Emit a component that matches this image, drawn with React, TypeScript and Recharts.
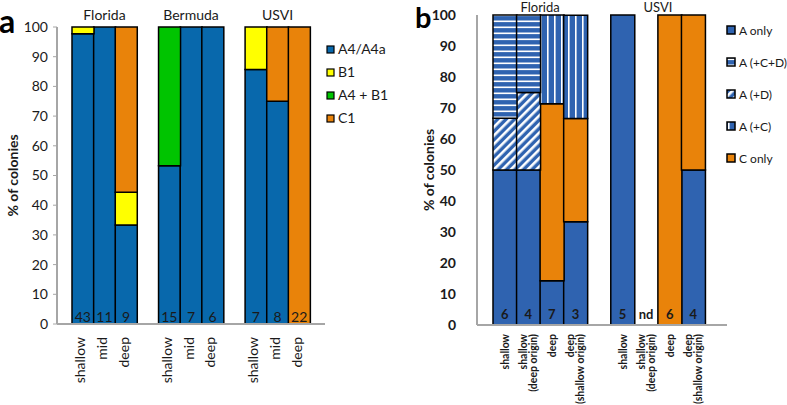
import React from 'react';
import { BarChart, Bar, XAxis, YAxis, Legend } from 'recharts';

const FONT = 'Lato, "Open Sans", sans-serif';
const INK = '#1a1a1a';
const AXIS = '#a6a6a6';

// ---- panel a ----
const idsA = ['fl-s', 'fl-m', 'fl-d', 'gap1', 'bm-s', 'bm-m', 'bm-d', 'gap2', 'vi-s', 'vi-m', 'vi-d'];
const depthA = ['shallow', 'mid', 'deep', '', 'shallow', 'mid', 'deep', '', 'shallow', 'mid', 'deep'];
const countA = ['43', '11', '9', '', '15', '7', '6', '', '7', '8', '22'];
const siteA = ['', 'Florida', '', '', '', 'Bermuda', '', '', '', 'USVI', ''];
const a4A = [97.7, 100, 33.3, 0, 53.3, 100, 100, 0, 85.7, 75, 0];
const b1A = [2.3, 0, 11.1, 0, 0, 0, 0, 0, 14.3, 0, 0];
const a4b1A = [0, 0, 0, 0, 46.7, 0, 0, 0, 0, 0, 0];
const c1A = [0, 0, 55.6, 0, 0, 0, 0, 0, 0, 25, 100];

// ---- panel b ----
const idsB = ['fl-s', 'fl-sd', 'fl-d', 'fl-ds', 'gap', 'vi-s', 'vi-sd', 'vi-d', 'vi-ds'];
const depthB = [
  ['shallow'], ['shallow', '(deep origin)'], ['deep'], ['deep', '(shallow origin)'], [],
  ['shallow'], ['shallow', '(deep origin)'], ['deep'], ['deep', '(shallow origin)'],
];
const countB = ['6', '4', '7', '3', '', '5', 'nd', '6', '4'];
const siteB = ['', 'Florida', '', '', '', '', 'USVI', '', ''];
const aOnlyB = [50, 50, 14.3, 33.3, 0, 100, 0, 0, 50];
const cOnlyB = [0, 0, 57.1, 33.3, 0, 0, 0, 100, 50];
const aDB = [16.7, 25, 0, 0, 0, 0, 0, 0, 0];
const aCB = [0, 0, 28.6, 33.3, 0, 0, 0, 0, 0];
const aCDB = [33.3, 25, 0, 0, 0, 0, 0, 0, 0];

const yTicks = [0, 10, 20, 30, 40, 50, 60, 70, 80, 90, 100];

const BLUE_A = '#0868ac';
const BLUE_B = '#2f63b0';
const ORANGE = '#e9830a';

const seriesA = [
  { key: 'a4', name: 'A4/A4a', fill: BLUE_A },
  { key: 'b1', name: 'B1', fill: '#ffff00' },
  { key: 'a4b1', name: 'A4 + B1', fill: '#00c400' },
  { key: 'c1', name: 'C1', fill: ORANGE },
];

// stacking order (bottom -> top)
const seriesB = [
  { key: 'aOnly', name: 'A only', fill: BLUE_B },
  { key: 'cOnly', name: 'C only', fill: ORANGE },
  { key: 'aD', name: 'A (+D)', fill: 'url(#diagB)' },
  { key: 'aC', name: 'A (+C)', fill: 'url(#vstripeB)' },
  { key: 'aCD', name: 'A (+C+D)', fill: 'url(#hstripeB)' },
];
const legendOrderB = ['aOnly', 'aCD', 'aD', 'aC', 'cOnly'];

const dataA = idsA.map((id, i) => ({ id, a4: a4A[i], b1: b1A[i], a4b1: a4b1A[i], c1: c1A[i] }));
const dataB = idsB.map((id, i) => ({
  id, aOnly: aOnlyB[i], cOnly: cOnlyB[i], aD: aDB[i], aC: aCB[i], aCD: aCDB[i],
}));

// layout
const PAD_A = { left: 15, right: 15 };
const PAD_B = { left: 16, right: 22 };
const PLOT_B_W = 250;
const SLOT_B = (PLOT_B_W - PAD_B.left - PAD_B.right) / idsB.length;

const TickA = ({ x, y, index }: any) => {
  if (!depthA[index]) return null;
  return (
    <g fontFamily={FONT} fill={INK}>
      <text x={x} y={y - 4} textAnchor="middle" fontSize={14}>{countA[index]}</text>
      <text transform={`translate(${x + 2.5},${y + 11}) rotate(-90)`} textAnchor="end" fontSize={14}>
        {depthA[index]}
      </text>
    </g>
  );
};

const SiteTickA = ({ x, y, index }: any) =>
  siteA[index] ? (
    <text x={x} y={y - 5} textAnchor="middle" fontSize={14} fontFamily={FONT} fill={INK}>
      {siteA[index]}
    </text>
  ) : null;

const TickB = ({ x, y, index }: any) => {
  const lines = depthB[index];
  return (
    <g fontFamily={FONT} fill={INK} fontWeight="bold">
      <text x={x} y={y - 8} textAnchor="middle" fontSize={13}>{countB[index]}</text>
      {lines.map((t, k) => {
        const dx = lines.length === 1 ? 4 : k === 0 ? -1 : 9;
        return (
          <text
            key={k}
            transform={`translate(${x + dx},${y + 7}) rotate(-90)`}
            textAnchor="end"
            fontSize={10.5}
          >
            {t}
          </text>
        );
      })}
    </g>
  );
};

const SiteTickB = ({ x, y, index }: any) =>
  siteB[index] ? (
    <text x={x + SLOT_B / 2} y={y - 1} textAnchor="middle" fontSize={13} fontFamily={FONT} fill={INK}>
      {siteB[index]}
    </text>
  ) : null;

const YTitle = ({ viewBox, inset }: any) => {
  const cx = viewBox.x + inset;
  const cy = viewBox.y + viewBox.height / 2;
  return (
    <text
      transform={`translate(${cx},${cy}) rotate(-90)`}
      textAnchor="middle"
      dy="0.35em"
      fontFamily={FONT}
      fontSize={14}
      fontWeight="bold"
      fill={INK}
    >
      % of colonies
    </text>
  );
};

const LegendA = () => (
  <svg width={70} height={90} style={{ overflow: 'visible' }}>
    {seriesA.map((s, i) => (
      <g key={s.key} transform={`translate(0,${i * 23})`}>
        <rect x={2} y={2} width={7} height={7} fill={s.fill} stroke="#000" strokeWidth={1.2} />
        <text x={13} y={10} fontFamily={FONT} fontSize={14} fill={INK}>{s.name}</text>
      </g>
    ))}
  </svg>
);

const LegendB = () => (
  <svg width={60} height={150} style={{ overflow: 'visible' }}>
    {legendOrderB.map((k, i) => {
      const s = seriesB.find((d) => d.key === k)!;
      return (
        <g key={k} transform={`translate(0,${i * 32})`}>
          <rect x={2} y={2} width={8} height={8} fill={s.fill} stroke="#000" strokeWidth={1.5} />
          <text x={14} y={11} fontFamily={FONT} fontSize={12} fill={INK}>{s.name}</text>
        </g>
      );
    })}
  </svg>
);

const PanelA = () => (
  <BarChart
    width={390}
    height={405}
    data={dataA}
    margin={{ top: 0, right: 65, bottom: 0, left: 0 }}
    barCategoryGap={0}
    barGap={0}
  >
    {seriesA.map((s) => (
      <Bar
        key={s.key}
        dataKey={s.key}
        name={s.name}
        stackId="a"
        fill={s.fill}
        stroke="#000"
        strokeWidth={1.5}
        isAnimationActive={false}
      />
    ))}
    <YAxis
      width={57}
      domain={[0, 100]}
      ticks={yTicks}
      interval={0}
      axisLine={{ stroke: AXIS, strokeWidth: 2 }}
      tickLine={{ stroke: AXIS }}
      tickSize={4}
      tickMargin={5}
      tick={{ fill: INK, fontSize: 14, fontFamily: FONT }}
      label={<YTitle inset={13} />}
    />
    <XAxis
      xAxisId="top"
      orientation="top"
      dataKey="id"
      height={27}
      interval={0}
      padding={PAD_A}
      axisLine={false}
      tickLine={false}
      tickSize={0}
      tick={<SiteTickA />}
    />
    <XAxis
      dataKey="id"
      height={81}
      interval={0}
      padding={PAD_A}
      axisLine={{ stroke: AXIS, strokeWidth: 2 }}
      tickLine={false}
      tickSize={0}
      tick={<TickA />}
    />
    <Legend
      layout="vertical"
      align="center"
      verticalAlign="middle"
      content={() => <LegendA />}
      wrapperStyle={{ left: 325, top: 44, width: 70 }}
    />
  </BarChart>
);

const PanelB = () => (
  <BarChart
    width={397}
    height={405}
    data={dataB}
    margin={{ top: 0, right: 60, bottom: 0, left: 0 }}
    barCategoryGap={0}
    barGap={0}
  >
    <defs>
      <pattern id="hstripeB" width={6} height={6} patternUnits="userSpaceOnUse">
        <rect width={6} height={6} fill={BLUE_B} />
        <rect y={2.5} width={6} height={1.6} fill="#fff" />
      </pattern>
      <pattern id="vstripeB" width={7} height={7} patternUnits="userSpaceOnUse">
        <rect width={7} height={7} fill={BLUE_B} />
        <rect x={3} width={1.6} height={7} fill="#fff" />
      </pattern>
      <pattern id="diagB" width={6} height={6} patternUnits="userSpaceOnUse" patternTransform="rotate(45)">
        <rect width={6} height={6} fill={BLUE_B} />
        <rect width={2.6} height={6} fill="#fff" />
      </pattern>
    </defs>
    {seriesB.map((s) => (
      <Bar
        key={s.key}
        dataKey={s.key}
        name={s.name}
        stackId="b"
        fill={s.fill}
        stroke="#000"
        strokeWidth={1.5}
        isAnimationActive={false}
      />
    ))}
    <YAxis
      width={87}
      domain={[0, 100]}
      ticks={yTicks}
      interval={0}
      axisLine={{ stroke: AXIS, strokeWidth: 2 }}
      tickLine={false}
      tickMargin={15}
      tick={{ fill: INK, fontSize: 14, fontFamily: FONT, fontWeight: 'bold' }}
      label={<YTitle inset={39} />}
    />
    <XAxis
      xAxisId="top"
      orientation="top"
      dataKey="id"
      height={15}
      interval={0}
      padding={PAD_B}
      axisLine={false}
      tickLine={false}
      tickSize={0}
      tick={<SiteTickB />}
    />
    <XAxis
      dataKey="id"
      height={80}
      interval={0}
      padding={PAD_B}
      axisLine={{ stroke: AXIS, strokeWidth: 2 }}
      tickLine={false}
      tickSize={0}
      tick={<TickB />}
    />
    <Legend
      layout="vertical"
      align="center"
      verticalAlign="middle"
      content={() => <LegendB />}
      wrapperStyle={{ left: 335, top: 24, width: 62 }}
    />
  </BarChart>
);

export default function App() {
  return (
    <div style={{ position: 'absolute', left: 0, top: 0, width: 787, height: 405, background: '#fff' }}>
      <div style={{ position: 'absolute', left: 0, top: 0 }}>
        <PanelA />
      </div>
      <div style={{ position: 'absolute', left: 390, top: 0 }}>
        <PanelB />
      </div>
      <svg
        style={{ position: 'absolute', left: 0, top: 0, pointerEvents: 'none' }}
        width={787}
        height={405}
      >
        <text x={-1} y={33} fontFamily={FONT} fontSize={32} fontWeight="bold" fill="#000">a</text>
        <text x={415} y={28} fontFamily={FONT} fontSize={29} fontWeight="bold" fill="#000">b</text>
      </svg>
    </div>
  );
}
